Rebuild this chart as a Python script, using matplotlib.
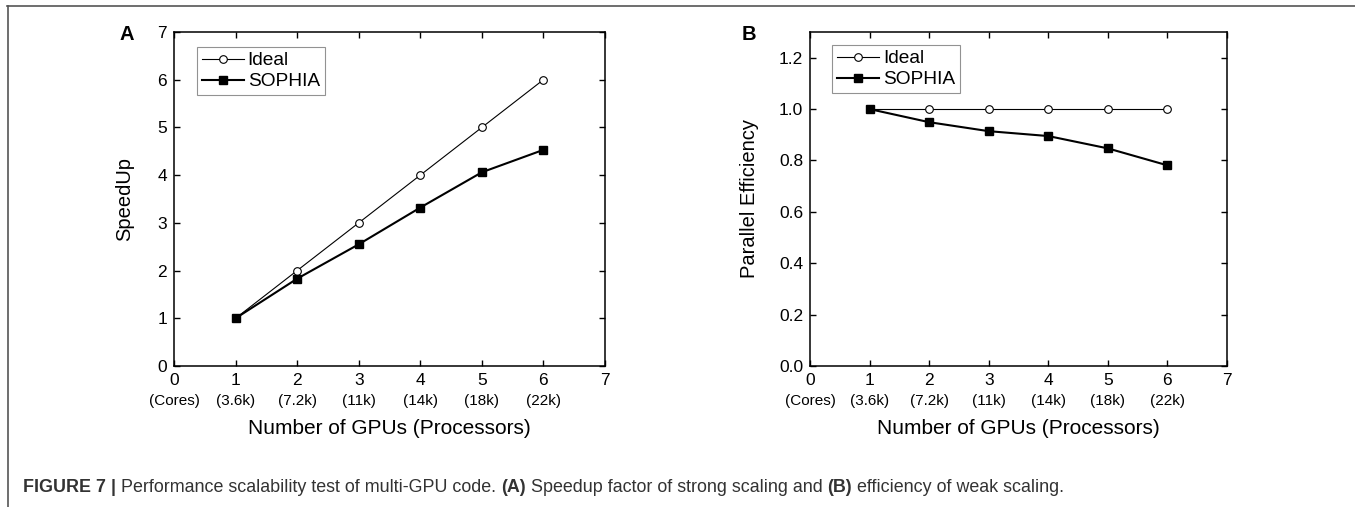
import matplotlib
matplotlib.use("Agg")
import matplotlib.pyplot as plt
from matplotlib.lines import Line2D
from matplotlib.ticker import FormatStrFormatter

plt.rcParams['font.family'] = ['Liberation Sans', 'DejaVu Sans']

# ---- data ----
gpus = [1, 2, 3, 4, 5, 6]
xtick_vals = [0, 1, 2, 3, 4, 5, 6, 7]
xtick_sub = ["(Cores)", "(3.6k)", "(7.2k)", "(11k)", "(14k)", "(18k)", "(22k)", ""]
speedup_ideal = [1, 2, 3, 4, 5, 6]
speedup_sophia = [1.0, 1.83, 2.55, 3.32, 4.06, 4.53]
eff_ideal = [1.0, 1.0, 1.0, 1.0, 1.0, 1.0]
eff_sophia = [1.0, 0.949, 0.914, 0.895, 0.847, 0.781]
series_names = ["Ideal", "SOPHIA"]
caption_parts = [("FIGURE 7", "bold"), (" | ", "bold"),
                 ("Performance scalability test of multi-GPU code. ", "normal"),
                 ("(A)", "bold"), (" Speedup factor of strong scaling and ", "normal"),
                 ("(B)", "bold"), (" efficiency of weak scaling.", "normal")]

W, H = 1355, 507
fig = plt.figure(figsize=(W / 100, H / 100), dpi=100)

def px_axes(l, t, r, b):
    return fig.add_axes([l / W, 1 - b / H, (r - l) / W, (b - t) / H])

axA = px_axes(174, 32, 605, 366)
axB = px_axes(810, 32, 1227, 366)

def style(ax, ylim, yticks, ylabel, fmt=None, leg_anchor=(0.053, 0.955), ylabelpad=15):
    ax.set_xlim(0, 7)
    ax.set_ylim(*ylim)
    ax.set_xticks(xtick_vals)
    ax.set_xticklabels([str(v) for v in xtick_vals])
    ax.set_yticks(yticks)
    if fmt:
        ax.yaxis.set_major_formatter(FormatStrFormatter(fmt))
    ax.tick_params(direction='in', top=True, right=True, length=4.5, width=1.0,
                   labelsize=12.5, pad=5, colors='black')
    for s in ax.spines.values():
        s.set_linewidth(1.1)
    ax.set_ylabel(ylabel, fontsize=14.5, labelpad=ylabelpad)
    ax.set_xlabel("Number of GPUs (Processors)", fontsize=15, labelpad=22)
    for v, lab in zip(xtick_vals, xtick_sub):
        ax.text(v, -0.083, lab, transform=ax.get_xaxis_transform(),
                ha='center', va='top', fontsize=11)
    leg = ax.legend(loc='upper left', bbox_to_anchor=leg_anchor, borderaxespad=0,
                    fontsize=13.8, frameon=True, fancybox=False, edgecolor='#777777',
                    handlelength=2.2, handletextpad=0.2, labelspacing=0.2,
                    borderpad=0.25)
    leg.get_frame().set_linewidth(0.8)

for ax, ideal, soph in [(axA, speedup_ideal, speedup_sophia), (axB, eff_ideal, eff_sophia)]:
    ax.plot(gpus, ideal, '-o', color='black', lw=0.8, ms=5.5, mfc='white',
            mec='black', mew=0.8, label=series_names[0])
    ax.plot(gpus, soph, '-s', color='black', lw=1.5, ms=5.2, mfc='black',
            mec='black', label=series_names[1])

style(axA, (0, 7), range(0, 8), "SpeedUp", leg_anchor=(0.053, 0.955), ylabelpad=17)
style(axB, (0, 1.3), [0, 0.2, 0.4, 0.6, 0.8, 1.0, 1.2], "Parallel Efficiency", fmt='%.1f',
      leg_anchor=(0.053, 0.961), ylabelpad=14)

fig.text(127 / W, 1 - 35 / H, "A", fontsize=14.5, fontweight='bold', ha='center', va='center')
fig.text(749 / W, 1 - 35 / H, "B", fontsize=14.5, fontweight='bold', ha='center', va='center')

# frame lines
fig.add_artist(Line2D([7 / W, 1], [1 - 6 / H, 1 - 6 / H], transform=fig.transFigure,
                      color='#555555', lw=1.2))
fig.add_artist(Line2D([8 / W, 8 / W], [0, 1 - 6 / H], transform=fig.transFigure,
                      color='#555555', lw=1.2))

# caption
renderer = fig.canvas.get_renderer()
x = 23
for txt, wt in caption_parts:
    t = fig.text(x / W, 1 - 488 / H, txt, fontsize=12.9, fontweight=wt,
                 color='#333333', ha='left', va='center')
    bb = t.get_window_extent(renderer=renderer)
    x = bb.x1

fig.savefig("out.png", dpi=100)
